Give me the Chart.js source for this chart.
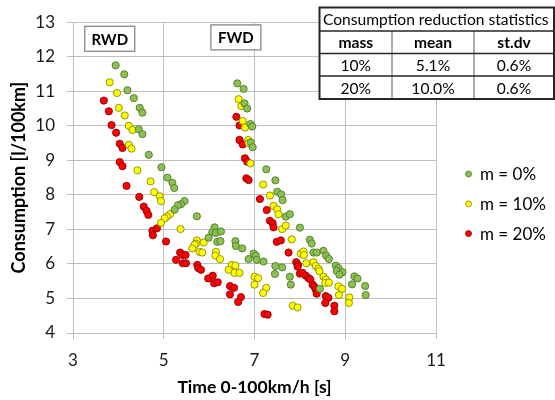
<!DOCTYPE html>
<html>
<head>
<meta charset="utf-8">
<script src="https://cdn.jsdelivr.net/npm/chart.js@4.4.0/dist/chart.umd.min.js"></script>
<style>
html, body { margin: 0; padding: 0; background: #fff; }
</style>
</head>
<body>
<canvas id="chart" width="555" height="400"></canvas>
<script>
var seriesNames = ['m = 0%', 'm = 10%', 'm = 20%'];

// [time 0-100 km/h, consumption]
var m0 = [
	[3.94,11.75],[4.13,11.49],[4.20,11.03],[4.34,10.80],[4.47,10.52],[4.53,10.38],[4.45,9.90],[4.53,9.76],
	[4.67,9.16],[4.95,8.80],[5.08,8.50],[5.19,8.35],[5.23,8.20],[5.46,7.82],[5.38,7.73],[5.31,7.70],
	[5.24,7.57],[5.73,7.38],[6.12,7.06],[6.07,6.92],[6.15,6.90],[6.26,6.94],[5.99,6.76],[6.18,6.64],
	[6.25,6.66],[6.58,6.66],[6.59,6.52],[6.73,6.45],[6.98,6.30],[7.03,6.24],[6.87,6.14],[7.05,6.12],
	[7.20,6.07],[7.46,5.94],[7.61,5.90],[7.45,5.71],[7.78,5.63],[7.80,5.40],
	[6.62,11.23],[6.76,11.07],[6.78,10.65],[6.84,10.50],[6.91,10.05],[6.95,9.98],[6.92,9.52],[6.96,9.38],
	[7.26,8.74],[7.46,8.42],[7.50,8.09],[7.59,8.01],[7.62,7.85],[7.69,7.37],[7.78,7.44],[8.00,7.05],
	[8.22,6.70],[8.26,6.59],[8.30,6.33],[8.37,6.33],[8.52,6.38],[8.58,6.24],[8.64,6.14],[8.79,5.95],
	[8.85,5.88],[8.81,5.80],[8.94,5.76],[8.87,5.69],[9.20,5.64],[9.27,5.58],[9.15,5.41],[9.44,5.36],
	[9.45,5.10],[8.44,5.28]
];
var m10 = [
	[3.81,11.26],[3.97,10.95],[4.01,10.52],[4.14,10.30],[4.23,10.00],[4.31,9.88],[4.23,9.45],[4.29,9.34],
	[4.42,8.71],[4.71,8.39],[4.79,8.08],[4.91,7.96],[4.94,7.82],[5.14,7.44],[5.07,7.37],[5.02,7.32],
	[4.94,7.19],[5.37,7.01],[5.73,6.68],[5.71,6.59],[5.88,6.62],[5.68,6.56],[5.63,6.45],[5.79,6.35],
	[5.85,6.33],[6.15,6.35],[6.14,6.24],[6.24,6.14],[6.50,5.97],[6.58,5.95],[6.43,5.83],[6.56,5.74],
	[6.67,5.74],[7.00,5.63],[7.08,5.59],[7.00,5.40],[7.26,5.31],[7.19,5.16],
	[6.65,10.77],[6.71,10.57],[6.74,10.14],[6.79,9.95],[6.86,9.59],[6.87,9.50],[6.91,8.91],[7.19,8.30],
	[7.34,7.98],[7.42,7.68],[7.50,7.58],[7.53,7.44],[7.61,7.01],[7.69,7.11],[7.82,6.71],[8.02,6.30],
	[8.08,6.36],[8.09,6.26],[8.14,6.02],[8.30,6.05],[8.35,5.94],[8.41,5.86],[8.43,5.79],[8.52,5.63],
	[8.57,5.55],[8.56,5.45],[8.64,5.46],[8.85,5.35],[8.93,5.28],[8.86,5.10],[9.09,5.03],[9.08,4.87],
	[7.84,4.79],[7.95,4.74]
];
var m20 = [
	[3.68,10.73],[3.79,10.42],[3.85,10.02],[3.95,9.80],[4.03,9.48],[4.09,9.36],[4.03,8.95],[4.09,8.83],
	[4.18,8.26],[4.46,7.94],[4.56,7.66],[4.62,7.54],[4.66,7.42],[4.75,6.96],[4.76,6.83],[4.85,7.03],
	[5.05,6.65],[5.27,6.12],[5.36,6.33],[5.41,6.26],[5.48,6.26],[5.42,6.02],[5.49,6.02],[5.74,5.97],
	[5.76,5.88],[5.82,5.83],[5.98,5.58],[6.08,5.66],[6.11,5.44],[6.19,5.47],[6.46,5.36],[6.55,5.31],
	[6.46,5.12],[6.70,5.04],[6.64,4.90],[7.22,4.55],[7.29,4.53],
	[6.60,10.26],[6.67,10.01],[6.67,9.59],[6.74,9.46],[6.79,9.06],[6.84,8.96],[6.82,8.48],[6.87,8.43],
	[7.12,7.88],[7.27,7.56],[7.34,7.25],[7.40,7.18],[7.42,7.06],[7.49,6.64],[7.58,6.68],[7.75,6.33],
	[7.92,6.05],[7.96,5.97],[7.95,5.92],[8.00,5.72],[8.06,5.74],[8.13,5.66],[8.19,5.59],[8.23,5.55],
	[8.28,5.40],[8.32,5.34],[8.35,5.26],[8.37,5.14],[8.57,5.07],[8.63,5.02],[8.56,4.87],[8.76,4.79],
	[8.76,4.63]
];

var driveLabels = ['RWD', 'FWD'];
var tableTitle = 'Consumption reduction statistics';
var tableHead = ['mass', 'mean', 'st.dv'];
var tableRows = [
	['10%', '5.1%', '0.6%'],
	['20%', '10.0%', '0.6%']
];

var FONT = 'Lato, "Open Sans", sans-serif';

function toPoints(list) {
	return list.map(function(p) { return {x: p[0], y: p[1]}; });
}

var fills = ['#8cc152', '#ffff00', '#ff0000'];
var borders = ['#4f7a2a', '#8c8a00', '#8b0000'];

var overlay = {
	id: 'overlay',
	afterDraw: function(chart) {
		var ctx = chart.ctx;
		var xs = chart.scales.x, ys = chart.scales.y;
		ctx.save();

		// RWD / FWD labels
		var anchors = [[3.81, 12.52], [6.59, 12.56]];
		ctx.font = 'bold 15px ' + FONT;
		ctx.textAlign = 'center';
		ctx.textBaseline = 'middle';
		driveLabels.forEach(function(label, i) {
			var cx = xs.getPixelForValue(anchors[i][0]);
			var cy = ys.getPixelForValue(anchors[i][1]);
			ctx.fillStyle = '#fff';
			ctx.fillRect(cx - 25, cy - 12.5, 50, 25);
			ctx.strokeStyle = '#7f7f7f';
			ctx.lineWidth = 1.2;
			ctx.strokeRect(cx - 25, cy - 12.5, 50, 25);
			ctx.fillStyle = '#000';
			ctx.fillText(label, cx, cy + 1);
		});

		// statistics table
		var left = 319.5, right = 554, top = 7.5;
		var rowY = [7.5, 31, 53.5, 76, 99];
		var colX = [319.5, 392, 474, 554];
		ctx.fillStyle = '#fff';
		ctx.fillRect(left, top, right - left, rowY[4] - top);

		ctx.strokeStyle = '#595959';
		ctx.lineWidth = 1;
		ctx.beginPath();
		for (var c = 1; c < 3; c++) {
			ctx.moveTo(colX[c], rowY[1]);
			ctx.lineTo(colX[c], rowY[4]);
		}
		ctx.stroke();

		ctx.strokeStyle = '#262626';
		ctx.lineWidth = 1.6;
		ctx.beginPath();
		for (var r = 1; r < 4; r++) {
			ctx.moveTo(left, rowY[r]);
			ctx.lineTo(right, rowY[r]);
		}
		ctx.stroke();
		ctx.lineWidth = 2;
		ctx.strokeRect(left, top, right - left, rowY[4] - top);

		ctx.fillStyle = '#000';
		ctx.font = '15.6px ' + FONT;
		ctx.textAlign = 'left';
		ctx.fillText(tableTitle, 323, (rowY[0] + rowY[1]) / 2 + 1);
		ctx.textAlign = 'center';
		ctx.font = 'bold 15.6px ' + FONT;
		tableHead.forEach(function(h, i) {
			ctx.fillText(h, (colX[i] + colX[i + 1]) / 2, (rowY[1] + rowY[2]) / 2 + 1);
		});
		ctx.font = '15.6px ' + FONT;
		tableRows.forEach(function(row, j) {
			row.forEach(function(v, i) {
				ctx.fillText(v, (colX[i] + colX[i + 1]) / 2, (rowY[j + 2] + rowY[j + 3]) / 2 + 1);
			});
		});

		// legend
		ctx.textAlign = 'left';
		ctx.font = '17px ' + FONT;
		chart.data.datasets.forEach(function(ds, i) {
			var y = 174 + i * 29.8;
			ctx.beginPath();
			ctx.arc(468.5, y, 3, 0, Math.PI * 2);
			ctx.fillStyle = ds.backgroundColor;
			ctx.fill();
			ctx.strokeStyle = ds.borderColor;
			ctx.lineWidth = 0.8;
			ctx.stroke();
			ctx.fillStyle = '#000';
			ctx.fillText(ds.label, 480, y + 1);
		});
		ctx.restore();
	}
};

var chart = new Chart(document.getElementById('chart'), {
	type: 'scatter',
	data: {
		datasets: [m0, m10, m20].map(function(list, i) {
			return {
				label: seriesNames[i],
				data: toPoints(list),
				backgroundColor: fills[i],
				borderColor: borders[i],
				borderWidth: 0.9,
				pointRadius: 3.6,
				pointHoverRadius: 3.6
			};
		})
	},
	options: {
		responsive: false,
		animation: false,
		layout: { padding: { top: 16, right: 119, left: 0, bottom: 0 } },
		plugins: {
			legend: { display: false },
			tooltip: { enabled: false }
		},
		scales: {
			x: {
				min: 3, max: 11,
				ticks: { stepSize: 2, color: '#1a1a1a', font: { family: FONT, size: 17 }, padding: 11, maxRotation: 0 },
				grid: { color: '#bfbfbf', tickLength: 6 },
				border: { color: '#bfbfbf' },
				title: { display: true, text: 'Time 0-100km/h [s]', color: '#000', font: { family: FONT, size: 17.5, weight: 'bold' }, padding: { bottom: 2 } },
				afterFit: function(scale) { scale.height = 67; }
			},
			y: {
				min: 4, max: 13,
				ticks: { stepSize: 1, color: '#1a1a1a', font: { family: FONT, size: 17 }, padding: 12 },
				grid: { color: '#bfbfbf', tickLength: 6 },
				border: { color: '#bfbfbf' },
				title: { display: true, text: 'Consumption [l/100km]', color: '#000', font: { family: FONT, size: 18, weight: 'bold' }, padding: { top: 8 } },
				afterFit: function(scale) { scale.width = 73; }
			}
		}
	},
	plugins: [overlay]
});
</script>
</body>
</html>
